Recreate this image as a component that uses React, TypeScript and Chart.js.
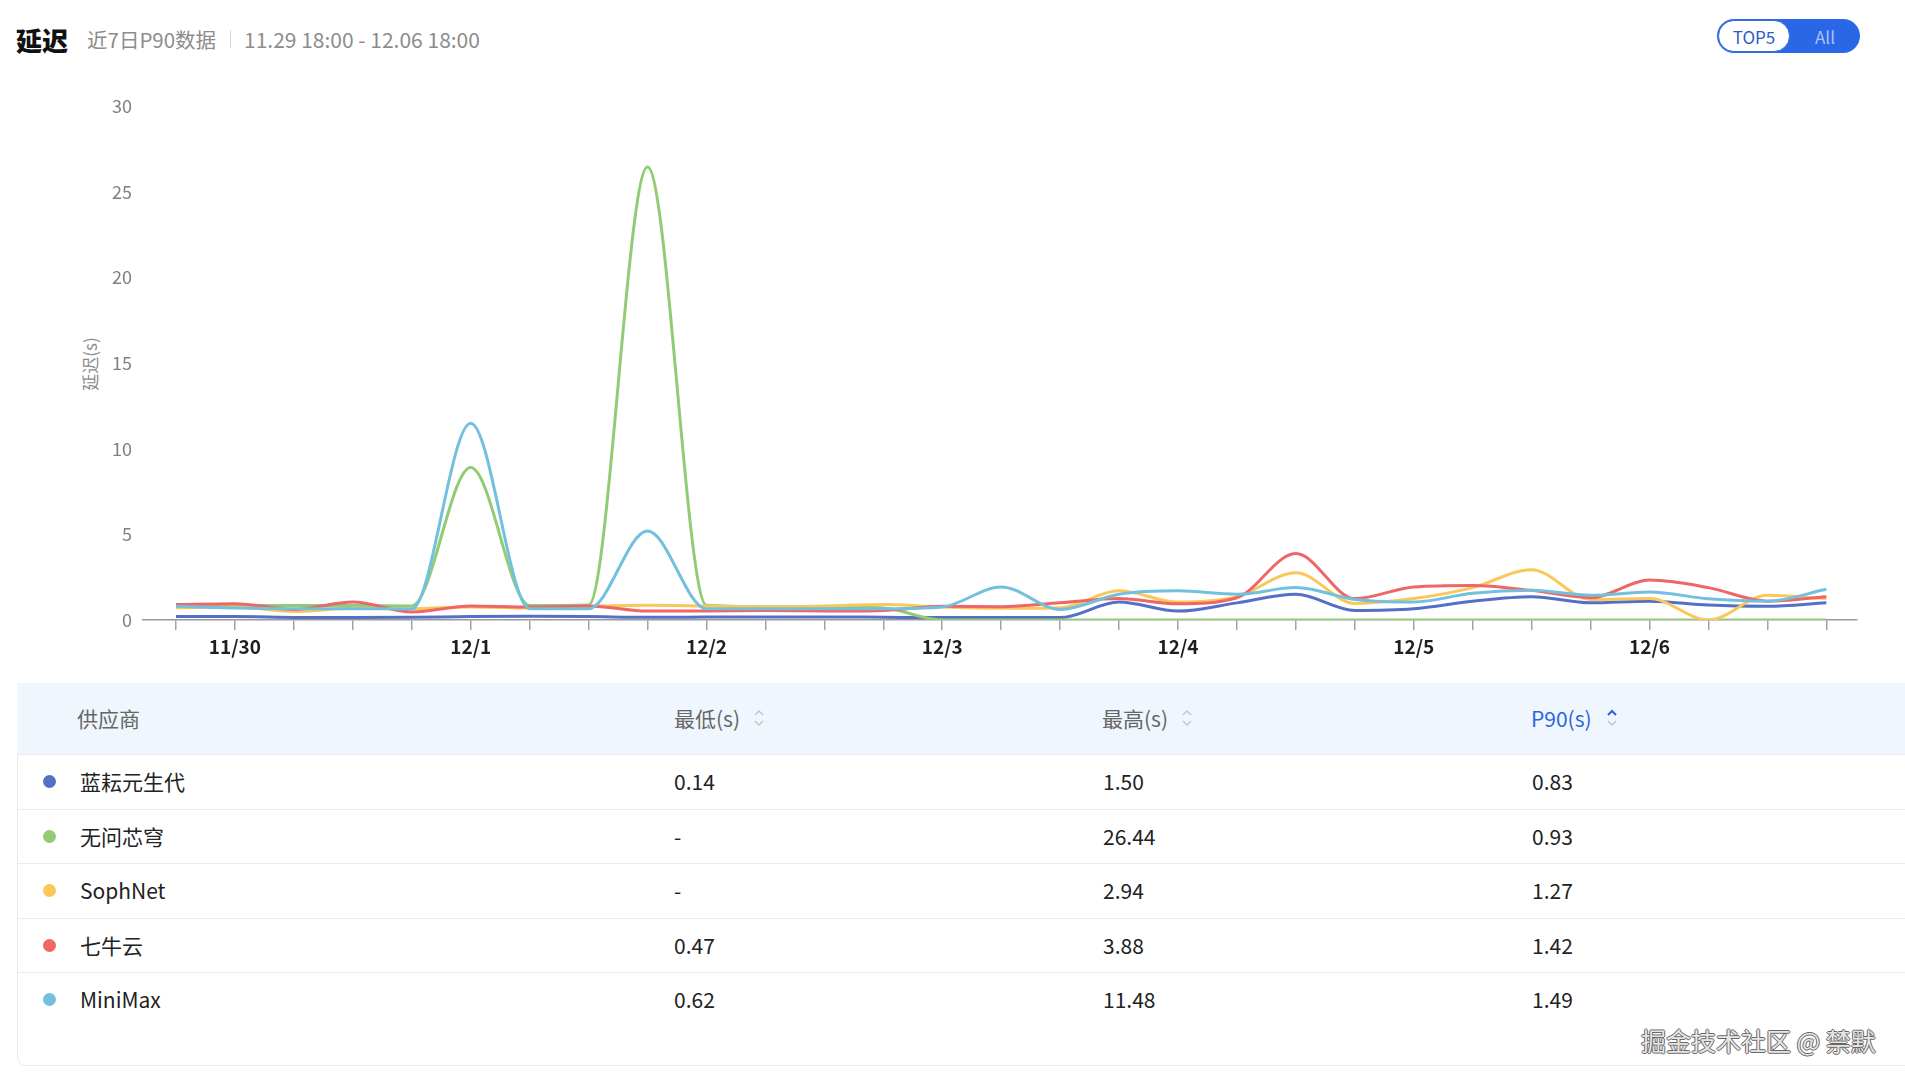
import React, { useEffect, useRef } from 'react';
import { Chart, registerables } from 'chart.js';

Chart.register(...registerables);

const FONT = '"Noto Sans CJK SC", "Noto Sans", sans-serif';

// x axis: 6-hour slots from 11.29 18:00 to 12.06 18:00 (29 slots); labels only at midnight
const xTickLabels = [
  '', '11/30', '', '', '', '12/1', '', '', '', '12/2', '', '', '', '12/3', '', '',
  '', '12/4', '', '', '', '12/5', '', '', '', '12/6', '', '', '',
];

const vendors = ['蓝耘元生代', '无问芯穹', 'SophNet', '七牛云', 'MiniMax'];
const colors = ['#5470c6', '#91cc75', '#fac858', '#ee6666', '#73c0de'];

const lanyun = [0.2, 0.2, 0.15, 0.14, 0.16, 0.2, 0.22, 0.2, 0.16, 0.17, 0.18, 0.18, 0.16, 0.14, 0.14, 0.14, 1.05, 0.52, 1.0, 1.5, 0.56, 0.66, 1.1, 1.36, 1.0, 1.1, 0.87, 0.8, 1.0];
const wuwen = [0.88, 0.85, 0.85, 0.85, 0.82, 8.9, 0.85, 0.88, 26.44, 0.86, 0.78, 0.76, 0.7, 0, 0, 0, 0, 0, 0, 0, 0, 0, 0, 0, 0, 0, 0, 0, 0];
const sophnet = [0.72, 0.76, 0.5, 0.68, 0.66, 0.76, 0.7, 0.8, 0.86, 0.82, 0.78, 0.82, 0.9, 0.76, 0.68, 0.72, 1.7, 1.05, 1.36, 2.76, 0.97, 1.25, 1.89, 2.94, 1.2, 1.26, 0, 1.44, 1.25];
const qiniu = [0.9, 0.95, 0.62, 1.05, 0.47, 0.82, 0.76, 0.82, 0.52, 0.52, 0.55, 0.52, 0.56, 0.8, 0.78, 1.0, 1.25, 0.95, 1.3, 3.88, 1.25, 1.93, 2.02, 1.73, 1.3, 2.33, 1.89, 1.1, 1.36];
const minimax = [0.8, 0.7, 0.66, 0.66, 0.64, 11.48, 0.66, 0.66, 5.2, 0.66, 0.66, 0.66, 0.66, 0.76, 1.93, 0.62, 1.5, 1.7, 1.5, 1.89, 1.2, 1.05, 1.56, 1.73, 1.44, 1.63, 1.24, 1.1, 1.79];

const minValues = ['0.14', '-', '-', '0.47', '0.62'];
const maxValues = ['1.50', '26.44', '2.94', '3.88', '11.48'];
const p90Values = ['0.83', '0.93', '1.27', '1.42', '1.49'];

const seriesList = [lanyun, wuwen, sophnet, qiniu, minimax];

const SortIcon: React.FC<{ left: number; activeUp?: boolean }> = ({ left, activeUp }) => (
  <svg
    width="12"
    height="18"
    viewBox="0 0 12 18"
    style={{ position: 'absolute', left, top: 709 }}
  >
    <polyline points="2,6 6,2 10,6" fill="none" stroke={activeUp ? '#2b66dc' : '#c4c4c4'} strokeWidth={activeUp ? 2 : 1.4} />
    <polyline points="2,12 6,16 10,12" fill="none" stroke="#c4c4c4" strokeWidth="1.4" />
  </svg>
);

export default function App() {
  const canvasRef = useRef<HTMLCanvasElement | null>(null);

  useEffect(() => {
    const canvas = canvasRef.current;
    if (!canvas) return;
    const chart = new Chart(canvas, {
      type: 'line',
      data: {
        datasets: seriesList.map((s, i) => ({
          label: vendors[i],
          data: s.map((v, k) => ({ x: k, y: v })),
          borderColor: colors[i],
          backgroundColor: colors[i],
          borderWidth: 3,
          pointRadius: 0,
          pointHoverRadius: 0,
          cubicInterpolationMode: 'monotone' as const,
          fill: false,
          order: seriesList.length - 1 - i,
        })),
      },
      options: {
        responsive: false,
        animation: false,
        events: [],
        layout: { padding: { left: 83, right: 48, top: 36, bottom: 10 } },
        plugins: {
          legend: { display: false },
          tooltip: { enabled: false },
        },
        scales: {
          x: {
            type: 'linear',
            min: -0.56,
            max: 28.52,
            afterBuildTicks: (scale: any) => {
              scale.ticks = xTickLabels.map((_, i) => ({ value: i }));
            },
            afterFit: (scale: any) => {
              scale.height = 40;
            },
            grid: {
              display: true,
              drawOnChartArea: false,
              drawTicks: true,
              tickLength: 10,
              color: '#a3a3a3',
              lineWidth: 1.5,
            },
            border: { display: true, color: '#9a9a9a', width: 1.5 },
            ticks: {
              autoSkip: false,
              maxRotation: 0,
              minRotation: 0,
              padding: 5,
              color: '#1f1f1f',
              font: { family: FONT, size: 19, weight: 'bold' },
              callback: (_v: any, index: number) => xTickLabels[index] ?? '',
            },
          },
          y: {
            min: 0,
            max: 30,
            afterFit: (scale: any) => {
              scale.width = 60;
            },
            grid: { display: false, drawTicks: false },
            border: { display: false },
            ticks: {
              stepSize: 5,
              padding: 11,
              color: '#808080',
              font: { family: FONT, size: 18 },
            },
          },
        },
      },
    });
    return () => chart.destroy();
  }, []);

  const rowTop = (k: number) => 755 + k * 54.5;

  return (
    <div
      style={{
        position: 'absolute',
        left: 0,
        top: 0,
        width: 1905,
        height: 1083,
        overflow: 'hidden',
        background: '#ffffff',
        fontFamily: FONT,
      }}
    >
      {/* Title row */}
      <div style={{ position: 'absolute', left: 16, top: 39, transform: 'translateY(-50%)', fontSize: 26, fontWeight: 900, color: '#111', whiteSpace: 'nowrap' }}>
        延迟
      </div>
      <div style={{ position: 'absolute', left: 87, top: 39, transform: 'translateY(-50%)', fontSize: 20.5, color: '#8c8c8c', whiteSpace: 'nowrap' }}>
        近7日P90数据
      </div>
      <div style={{ position: 'absolute', left: 230, top: 30, width: 1, height: 18, background: '#d9d9d9' }} />
      <div style={{ position: 'absolute', left: 244, top: 39, transform: 'translateY(-50%)', fontSize: 21, color: '#8c8c8c', whiteSpace: 'nowrap' }}>
        11.29 18:00 - 12.06 18:00
      </div>

      {/* Toggle */}
      <div style={{ position: 'absolute', left: 1717, top: 19, width: 143, height: 34, borderRadius: 17, background: '#2a67e6' }} />
      <div
        style={{
          position: 'absolute', left: 1718, top: 20, width: 70, height: 30, borderRadius: 16,
          background: '#fff', border: '1px solid #3c6fd6', display: 'flex', alignItems: 'center',
          justifyContent: 'center', fontSize: 17, color: '#2b5cc6',
        }}
      >
        TOP5
      </div>
      <div style={{ position: 'absolute', left: 1825, top: 36, transform: 'translate(-50%,-50%)', fontSize: 17, color: '#a9c3f6' }}>
        All
      </div>

      {/* Y axis title */}
      <div
        style={{
          position: 'absolute', left: 89, top: 364, transform: 'translate(-50%,-50%) rotate(-90deg)',
          fontSize: 17, color: '#8c8c8c', whiteSpace: 'nowrap',
        }}
      >
        延迟(s)
      </div>

      {/* Chart */}
      <canvas
        ref={canvasRef}
        width={1905}
        height={600}
        style={{ position: 'absolute', left: 0, top: 70, width: 1905, height: 600 }}
      />

      {/* Table card */}
      <div
        style={{
          position: 'absolute', left: 17, top: 683, width: 1900, height: 383,
          border: '1px solid #ececec', borderTop: 'none', borderRadius: '0 0 0 8px', boxSizing: 'border-box',
        }}
      />
      <div style={{ position: 'absolute', left: 17, top: 683, width: 1890, height: 72, background: '#eff6fd', borderBottom: '1px solid #e6ecf2', boxSizing: 'border-box' }} />
      <div style={{ position: 'absolute', left: 77, top: 718, transform: 'translateY(-50%)', fontSize: 21, color: '#666' }}>供应商</div>
      <div style={{ position: 'absolute', left: 674, top: 718, transform: 'translateY(-50%)', fontSize: 21, color: '#666' }}>最低(s)</div>
      <SortIcon left={753} />
      <div style={{ position: 'absolute', left: 1102, top: 718, transform: 'translateY(-50%)', fontSize: 21, color: '#666' }}>最高(s)</div>
      <SortIcon left={1181} />
      <div style={{ position: 'absolute', left: 1531, top: 718, transform: 'translateY(-50%)', fontSize: 21, color: '#2b66dc' }}>P90(s)</div>
      <SortIcon left={1606} activeUp />

      {vendors.map((name, k) => (
        <div
          key={name}
          style={{
            position: 'absolute', left: 17, top: rowTop(k), width: 1890, height: 54.5,
            borderBottom: k < vendors.length - 1 ? '1px solid #ececec' : 'none', boxSizing: 'border-box',
            fontSize: 21, color: '#222',
          }}
        >
          <div style={{ position: 'absolute', left: 26, top: 20, width: 13, height: 13, borderRadius: '50%', background: colors[k] }} />
          <div style={{ position: 'absolute', left: 63, top: 26, transform: 'translateY(-50%)', whiteSpace: 'nowrap' }}>{name}</div>
          <div style={{ position: 'absolute', left: 657, top: 26, transform: 'translateY(-50%)' }}>{minValues[k]}</div>
          <div style={{ position: 'absolute', left: 1086, top: 26, transform: 'translateY(-50%)' }}>{maxValues[k]}</div>
          <div style={{ position: 'absolute', left: 1515, top: 26, transform: 'translateY(-50%)' }}>{p90Values[k]}</div>
        </div>
      ))}

      {/* Watermark */}
      <div
        style={{
          position: 'absolute', left: 1641, top: 1040, transform: 'translateY(-50%)', fontSize: 25,
          color: '#e6e6e6', whiteSpace: 'nowrap',
          textShadow: '1px 0 0 #666, -1px 0 0 #666, 0 1px 0 #666, 0 -1px 0 #666',
        }}
      >
        掘金技术社区 @ 禁默
      </div>
    </div>
  );
}
